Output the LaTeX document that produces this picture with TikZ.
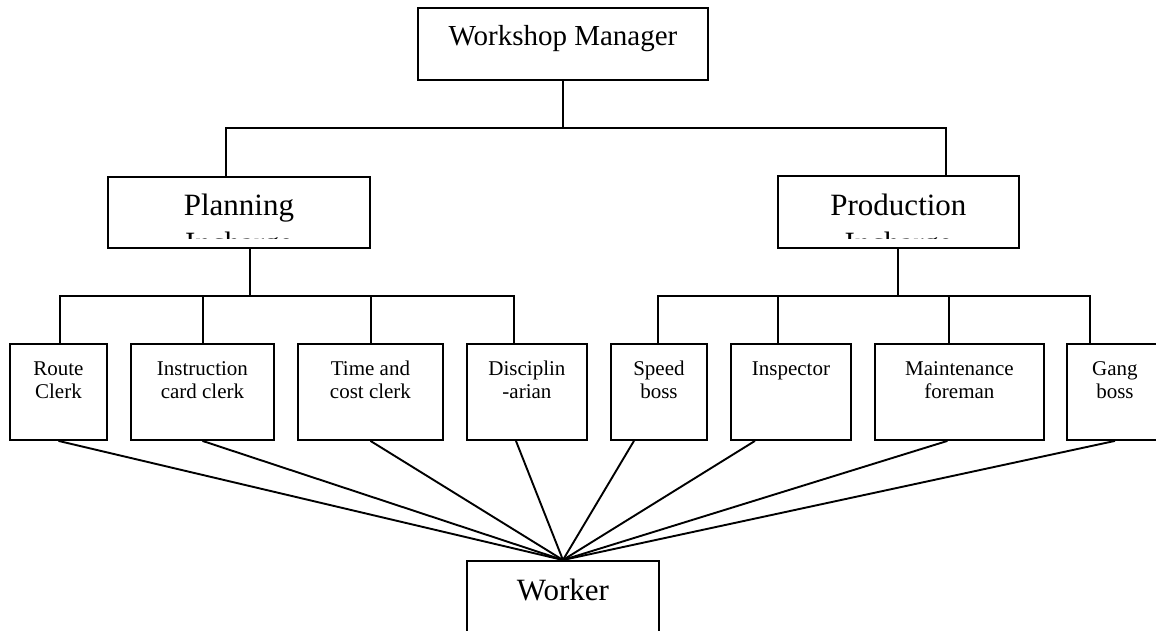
\documentclass[tikz,border=0pt]{standalone}
\usepackage{fontspec}
\setmainfont{Liberation Serif}
\begin{document}
\begin{tikzpicture}[x=1pt,y=-1pt,
  box/.style={draw, line width=1.9pt, inner sep=0pt, anchor=north west},
  wire/.style={line width=1.9pt},
  bigtext/.style={font=\fontsize{31}{38}\selectfont, inner sep=0pt, anchor=base},
  smalltext/.style={font=\fontsize{21}{23}\selectfont, inner sep=0pt, anchor=north, align=center},
]
\useasboundingbox (0,0) rectangle (1156,630);
\clip (0,0) rectangle (1156,630);

% boxes
\node[box, minimum width=290pt, minimum height=72pt] (wm) at (417,7) {};
\node[box, minimum width=262pt, minimum height=71pt] (plan) at (107,176) {};
\node[box, minimum width=241pt, minimum height=72pt] (prod) at (777,175) {};
\node[box, minimum width=97pt,  minimum height=96pt] (route) at (9,343) {};
\node[box, minimum width=143pt, minimum height=96pt] (instr) at (130,343) {};
\node[box, minimum width=145pt, minimum height=96pt] (timec) at (297,343) {};
\node[box, minimum width=120pt, minimum height=96pt] (disc) at (466,343) {};
\node[box, minimum width=96pt,  minimum height=96pt] (speed) at (610,343) {};
\node[box, minimum width=120pt, minimum height=96pt] (insp) at (730,343) {};
\node[box, minimum width=169pt, minimum height=96pt] (maint) at (874,343) {};
\node[box, minimum width=96pt,  minimum height=96pt] (gang) at (1066,343) {};
\node[box, minimum width=192pt, minimum height=90pt] (worker) at (466,560) {};

% texts
\node[bigtext, font=\fontsize{29}{35}\selectfont] (wmT) at ([yshift=-38pt]wm.north) {Workshop Manager};
\node[bigtext] (planT) at ([yshift=-39pt]plan.north) {Planning};
\begin{scope}
  \clip (plan.north west) rectangle ([yshift=10pt]plan.south east);
  \node[bigtext] (planT2) at ([yshift=-77pt]plan.north) {Incharge};
\end{scope}
\node[bigtext] (prodT) at ([yshift=-40pt]prod.north) {Production};
\begin{scope}
  \clip (prod.north west) rectangle ([yshift=10pt]prod.south east);
  \node[bigtext] (prodT2) at ([yshift=-78pt]prod.north) {Incharge};
\end{scope}
\node[bigtext] (workerT) at ([yshift=-40pt]worker.north) {Worker};

\node[smalltext] (routeT) at ([yshift=-16pt]route.north) {\strut Route\\\strut Clerk};
\node[smalltext] (instrT) at ([yshift=-16pt]instr.north) {\strut Instruction\\\strut card clerk};
\node[smalltext] (timecT) at ([yshift=-16pt]timec.north) {\strut Time and\\\strut cost clerk};
\node[smalltext] (discT) at ([yshift=-16pt]disc.north) {\strut Disciplin\\\strut -arian};
\node[smalltext] (speedT) at ([yshift=-16pt]speed.north) {\strut Speed\\\strut boss};
\node[smalltext] (inspT) at ([yshift=-16pt]insp.north) {\strut Inspector};
\node[smalltext] (maintT) at ([yshift=-16pt]maint.north) {\strut Maintenance\\\strut foreman};
\node[smalltext] (gangT) at ([yshift=-16pt]gang.north) {\strut Gang\\\strut boss};

% top level bus
\coordinate (b1l) at (226,128);
\coordinate (b1r) at (946,128);
\draw[wire] (wm.south) -- (wm.south |- b1l);
\draw[wire] (b1l |- plan.north) -- (b1l) -- (b1r) -- (b1r |- prod.north);

% planning bus
\coordinate (b2) at (250,296);
\coordinate (b2a) at (60,296);
\coordinate (b2b) at (203,296);
\coordinate (b2c) at (371,296);
\coordinate (b2d) at (514,296);
\draw[wire] (b2 |- plan.south) -- (b2);
\draw[wire] (b2a |- route.north) -- (b2a) -- (b2d) -- (b2d |- disc.north);
\draw[wire] (b2b) -- (b2b |- instr.north);
\draw[wire] (b2c) -- (b2c |- timec.north);

% production bus
\coordinate (b3) at (898,296);
\coordinate (b3a) at (658,296);
\coordinate (b3b) at (778,296);
\coordinate (b3c) at (949,296);
\coordinate (b3d) at (1090,296);
\draw[wire] (b3 |- prod.south) -- (b3);
\draw[wire] (b3a |- speed.north) -- (b3a) -- (b3d) -- (b3d |- gang.north);
\draw[wire] (b3b) -- (b3b |- insp.north);
\draw[wire] (b3c) -- (b3c |- maint.north);

% fan into the worker
\draw[wire] (route.south) -- (worker.north);
\draw[wire] (instr.south) -- (worker.north);
\draw[wire] (timec.south) -- (worker.north);
\draw[wire] ([xshift=-11pt]disc.south) -- (worker.north);
\draw[wire] ([xshift=-25pt]speed.south) -- (worker.north);
\draw[wire] ([xshift=-36pt]insp.south) -- (worker.north);
\draw[wire] ([xshift=-12pt]maint.south) -- (worker.north);
\draw[wire] (gang.south) -- (worker.north);
\end{tikzpicture}
\end{document}
